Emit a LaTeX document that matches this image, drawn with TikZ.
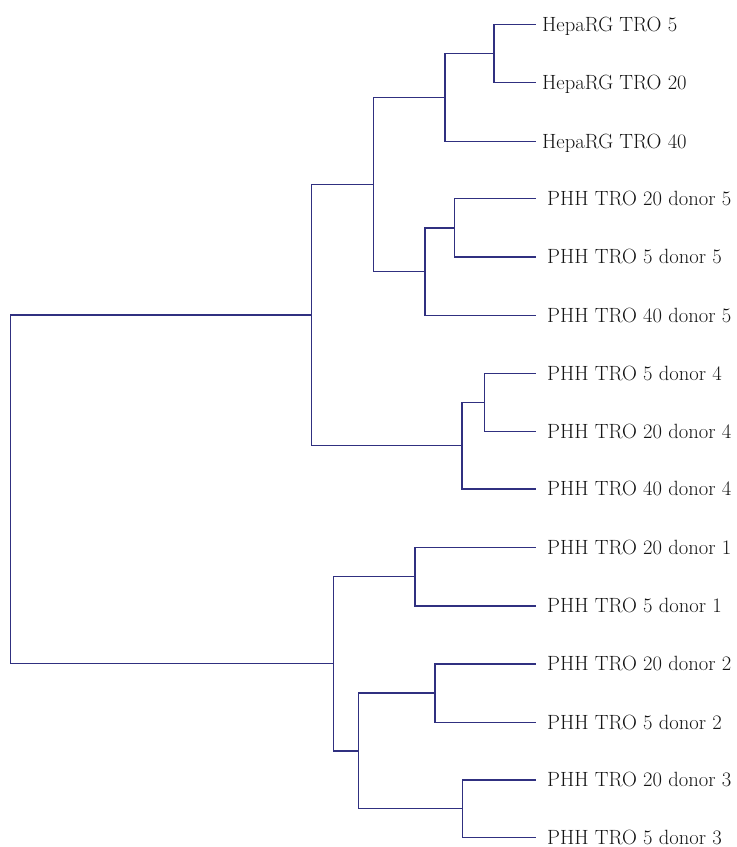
\documentclass[tikz,border=0pt]{standalone}
\definecolor{tree}{RGB}{48,48,128}
\definecolor{lab}{RGB}{20,20,20}
\begin{document}
\begin{tikzpicture}[x=1pt,y=-1pt,
  branch/.style={draw=tree,line width=1.3pt,line join=miter},
  leaflabel/.style={anchor=base west,inner sep=0pt,text=lab,font=\fontsize{20.6}{24}\selectfont}]
\useasboundingbox (0,0) rectangle (737,847);
% leaves
\coordinate (l1) at (535.5,24.3);
\coordinate (l2) at (535.5,82.7);
\coordinate (l3) at (535.5,141.3);
\coordinate (l4) at (535.5,198.7);
\coordinate (l5) at (535.5,257);
\coordinate (l6) at (535.5,315.3);
\coordinate (l7) at (535.5,373.7);
\coordinate (l8) at (535.5,431.3);
\coordinate (l9) at (535.5,489);
\coordinate (l10) at (535.5,547.7);
\coordinate (l11) at (535.5,606);
\coordinate (l12) at (535.5,664);
\coordinate (l13) at (535.5,722.3);
\coordinate (l14) at (535.5,780);
\coordinate (l15) at (535.5,837.3);
% labels
\node[leaflabel] (t1) at (542,31) {HepaRG TRO 5};
\node[leaflabel] (t2) at (542,89.4) {HepaRG TRO 20};
\node[leaflabel] (t3) at (542,148) {HepaRG TRO 40};
\node[leaflabel] (t4) at (547,205.4) {PHH TRO 20 donor 5};
\node[leaflabel] (t5) at (547,263.7) {PHH TRO 5 donor 5};
\node[leaflabel] (t6) at (547,322) {PHH TRO 40 donor 5};
\node[leaflabel] (t7) at (547,380.4) {PHH TRO 5 donor 4};
\node[leaflabel] (t8) at (547,438) {PHH TRO 20 donor 4};
\node[leaflabel] (t9) at (547,495.7) {PHH TRO 40 donor 4};
\node[leaflabel] (t10) at (547,554.4) {PHH TRO 20 donor 1};
\node[leaflabel] (t11) at (547,612.7) {PHH TRO 5 donor 1};
\node[leaflabel] (t12) at (547,670.7) {PHH TRO 20 donor 2};
\node[leaflabel] (t13) at (547,729) {PHH TRO 5 donor 2};
\node[leaflabel] (t14) at (547,786.7) {PHH TRO 20 donor 3};
\node[leaflabel] (t15) at (547,844) {PHH TRO 5 donor 3};
% internal nodes
\coordinate (A) at (494,53.5);
\coordinate (B) at (445,97.4);
\coordinate (C) at (454.3,227.9);
\coordinate (D) at (425,271.6);
\coordinate (E) at (373.3,184.5);
\coordinate (F) at (484.3,402.5);
\coordinate (G) at (462,445.7);
\coordinate (H) at (311.7,315.1);
\coordinate (J) at (415,576.8);
\coordinate (K) at (435,693.1);
\coordinate (L) at (462.7,808.6);
\coordinate (M) at (358.3,750.9);
\coordinate (I) at (333.7,663.8);
\coordinate (R) at (10.7,489.5);
% branches
\draw[branch] (l1) -| (A) |- (l2);
\draw[branch] (A) -| (B) |- (l3);
\draw[branch] (l4) -| (C) |- (l5);
\draw[branch] (C) -| (D) |- (l6);
\draw[branch] (B) -| (E) |- (D);
\draw[branch] (l7) -| (F) |- (l8);
\draw[branch] (F) -| (G) |- (l9);
\draw[branch] (E) -| (H) |- (G);
\draw[branch] (l10) -| (J) |- (l11);
\draw[branch] (l12) -| (K) |- (l13);
\draw[branch] (l14) -| (L) |- (l15);
\draw[branch] (K) -| (M) |- (L);
\draw[branch] (J) -| (I) |- (M);
\draw[branch] (H) -| (R) |- (I);
\end{tikzpicture}
\end{document}
